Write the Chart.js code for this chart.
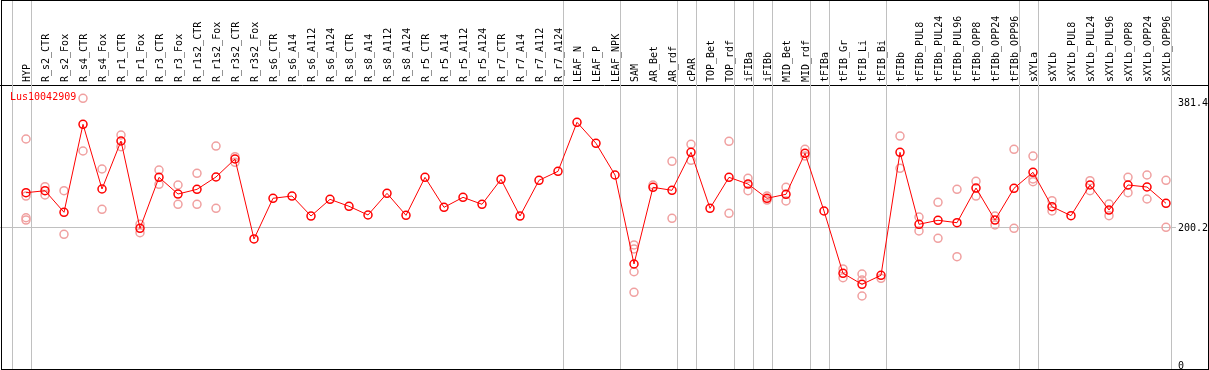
<!DOCTYPE html>
<html>
<head>
<meta charset="utf-8">
<script src="https://cdn.jsdelivr.net/npm/chart.js@4"></script>
<style>
  html, body { margin: 0; padding: 0; background: #fff; }
  canvas { display: block; }
</style>
</head>
<body>
<canvas id="grafico" width="1209" height="370"></canvas>
<script>
// data
const geneName = "Lus10042909";

const categories = [
  "HYP", "R_s2_CTR", "R_s2_Fox", "R_s4_CTR", "R_s4_Fox", "R_r1_CTR", "R_r1_Fox",
  "R_r3_CTR", "R_r3_Fox", "R_r1s2_CTR", "R_r1s2_Fox", "R_r3s2_CTR", "R_r3s2_Fox",
  "R_s6_CTR", "R_s6_A14", "R_s6_A112", "R_s6_A124", "R_s8_CTR", "R_s8_A14",
  "R_s8_A112", "R_s8_A124", "R_r5_CTR", "R_r5_A14", "R_r5_A112", "R_r5_A124",
  "R_r7_CTR", "R_r7_A14", "R_r7_A112", "R_r7_A124", "LEAF_N", "LEAF_P", "LEAF_NPK",
  "SAM", "AR_Bet", "AR_rdf", "cPAR", "TOP_Bet", "TOP_rdf", "iFIBa", "iFIBb",
  "MID_Bet", "MID_rdf", "tFIBa", "tFIB_Gr", "tFIB_Li", "tFIB_Bi", "tFIBb",
  "tFIBb_PUL8", "tFIBb_PUL24", "tFIBb_PUL96", "tFIBb_OPP8", "tFIBb_OPP24", "tFIBb_OPP96",
  "sXYLa", "sXYLb", "sXYLb_PUL8", "sXYLb_PUL24", "sXYLb_PUL96", "sXYLb_OPP8",
  "sXYLb_OPP24", "sXYLb_OPP96"
];

const means = [
  251.3, 254.2, 222.9, 350.5, 256.7, 326.3, 199.7, 273.6, 249.4, 256.2, 274.1, 300.2, 184.2,
  243.2, 246.5, 217.5, 241.7, 231.6, 219.0, 250.4, 218.5, 273.6, 230.1, 244.6, 234.5,
  270.7, 217.5, 269.3, 282.3, 353.4, 322.9, 277.0,
  147.9, 259.1, 254.8, 309.9, 228.7, 273.6, 263.9, 243.2, 249.0, 308.4,
  224.8, 134.4, 118.5, 131.5, 309.9,
  205.5, 211.3, 207.8, 258.1, 211.7, 257.7,
  280.9, 231.0, 218.0, 262.5, 226.2, 262.5, 259.6, 235.9
];

// individual replicates (one list per category)
const replicates = [
  [329.2, 246.5, 215.0, 211.7], [260.0, 248.0], [254.2, 191.0], [388.2, 311.8],
  [285.7, 227.2], [335.0, 318.0], [205.5, 193.3], [284.2, 263.5], [262.5, 234.5],
  [279.4, 234.5], [319.0, 228.7], [303.5, 295.4], [],
  [], [], [], [], [], [], [], [], [], [], [], [],
  [], [], [], [], [], [], [],
  [175.5, 169.7, 136.7, 106.9], [262.5], [296.8, 214.2], [321.5, 298.3], [],
  [325.8, 221.4], [272.2, 254.2], [246.5, 240.7], [259.1, 239.3], [314.2, 304.5],
  [], [140.7, 128.0], [133.4, 124.7, 101.5], [127.2], [333.5, 286.7],
  [216.1, 195.8], [237.4, 185.2], [256.2, 158.5], [267.8, 246.5], [217.5, 204.5], [314.2, 199.7],
  [304.5, 271.2, 267.3], [239.7, 224.8], [], [268.7, 254.2], [234.9, 218.0],
  [273.6, 251.3], [277.0, 242.2], [269.3, 201.1]
];

const yTicks = [0, 200.2, 381.4];

// index of the last category in each group (a separator follows it)
const groupEnds = [-1, 0, 28, 31, 34, 35, 37, 38, 39, 41, 42, 45, 52, 53, 60];

const FONTE = "DejaVu Sans Mono";
const VERMELHO = "#ff0000";
const ROSA = "#f0a0a0";
const CINZA = "#c0c0c0";

const pontosMedia = means.map((v, i) => ({ x: i, y: v }));
const pontosRep = [];
replicates.forEach((lista, i) => lista.forEach(v => pontosRep.push({ x: i, y: v })));

// separators, frame and gene name
const moldura = {
  id: "moldura",
  beforeDatasetsDraw(chart) {
    const ctx = chart.ctx;
    const xs = chart.scales.x;
    ctx.save();
    ctx.strokeStyle = CINZA;
    ctx.lineWidth = 1;
    groupEnds.forEach(g => {
      const px = Math.round(xs.getPixelForValue(g + 0.24)) + 0.5;
      ctx.beginPath();
      ctx.moveTo(px, 0);
      ctx.lineTo(px, chart.height);
      ctx.stroke();
    });
    ctx.restore();
  },
  afterDraw(chart) {
    const ctx = chart.ctx;
    const area = chart.chartArea;
    ctx.save();
    ctx.strokeStyle = "#000";
    ctx.lineWidth = 1;
    ctx.strokeRect(1.5, 0.5, chart.width - 2, chart.height - 1);
    ctx.fillStyle = VERMELHO;
    ctx.font = "10px " + FONTE;
    ctx.textBaseline = "middle";
    ctx.textAlign = "left";
    ctx.fillText(geneName, 10, area.top + 12);
    ctx.restore();
  }
};

const semPadding = s => {
  s.paddingLeft = 0; s.paddingRight = 0; s.paddingTop = 0; s.paddingBottom = 0;
};

new Chart(document.getElementById("grafico"), {
  type: "line",
  data: {
    datasets: [
      {
        label: "media",
        data: pontosMedia,
        borderColor: VERMELHO,
        borderWidth: 1,
        pointRadius: 4,
        pointBorderWidth: 1.5,
        pointBorderColor: VERMELHO,
        pointBackgroundColor: "rgba(0,0,0,0)",
        tension: 0
      },
      {
        label: "replicas",
        data: pontosRep,
        showLine: false,
        pointRadius: 4,
        pointBorderWidth: 1.5,
        pointBorderColor: ROSA,
        pointBackgroundColor: "rgba(0,0,0,0)"
      }
    ]
  },
  options: {
    responsive: false,
    animation: false,
    devicePixelRatio: 1,
    layout: { padding: 0, autoPadding: false },
    plugins: { legend: { display: false }, tooltip: { enabled: false } },
    scales: {
      x: {
        type: "linear",
        position: "top",
        min: -26 / 19,
        max: (1208 - 26) / 19,
        afterBuildTicks: s => { s.ticks = categories.map((_, i) => ({ value: i })); },
        afterFit: s => { s.height = 85; semPadding(s); },
        grid: { display: false, drawTicks: false },
        border: { display: true, color: "#000", width: 1 },
        ticks: {
          autoSkip: false,
          minRotation: 90,
          maxRotation: 90,
          padding: 3,
          labelOffset: 13,
          color: "#000",
          font: { family: FONTE, size: 10 },
          callback: v => categories[v]
        }
      },
      y: {
        type: "linear",
        position: "right",
        min: -5.8,
        max: 407.5,
        afterBuildTicks: s => { s.ticks = yTicks.map(v => ({ value: v })); },
        afterFit: s => { s.width = 1; semPadding(s); },
        border: { display: false },
        grid: {
          drawTicks: false,
          color: c => (c.tick && c.tick.value === 200.2 ? CINZA : "rgba(0,0,0,0)")
        },
        ticks: {
          mirror: true,
          crossAlign: "far",
          padding: 0,
          color: "#000",
          font: { family: FONTE, size: 10 },
          showLabelBackdrop: true,
          backdropColor: "#fff",
          backdropPadding: { left: 2, right: 0, top: 0, bottom: 0 },
          callback: v => (v === 0 ? "0" : v.toFixed(1))
        }
      }
    }
  },
  plugins: [moldura]
});
</script>
</body>
</html>
